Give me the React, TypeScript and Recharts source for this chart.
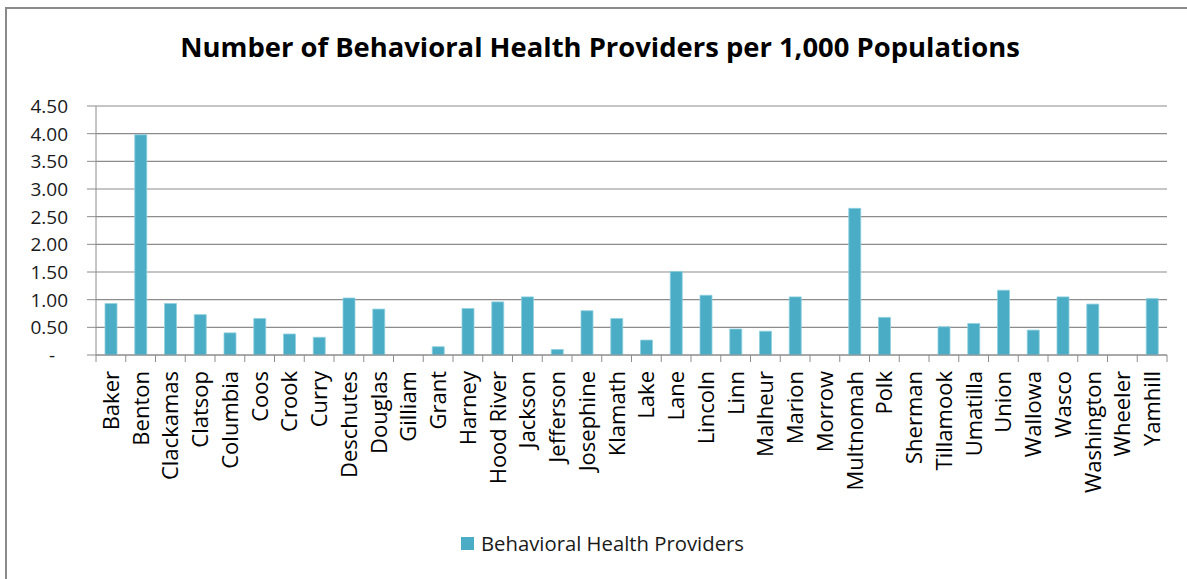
import React from 'react';
import { BarChart, Bar, XAxis, YAxis, CartesianGrid, Legend } from 'recharts';

const COUNTIES = [
  'Baker', 'Benton', 'Clackamas', 'Clatsop', 'Columbia', 'Coos', 'Crook', 'Curry',
  'Deschutes', 'Douglas', 'Gilliam', 'Grant', 'Harney', 'Hood River', 'Jackson',
  'Jefferson', 'Josephine', 'Klamath', 'Lake', 'Lane', 'Lincoln', 'Linn', 'Malheur',
  'Marion', 'Morrow', 'Multnomah', 'Polk', 'Sherman', 'Tillamook', 'Umatilla',
  'Union', 'Wallowa', 'Wasco', 'Washington', 'Wheeler', 'Yamhill',
];

const PROVIDERS = [
  0.93, 3.98, 0.93, 0.73, 0.40, 0.66, 0.38, 0.32,
  1.03, 0.83, 0, 0.15, 0.84, 0.96, 1.05,
  0.10, 0.80, 0.66, 0.27, 1.51, 1.08, 0.47, 0.43,
  1.05, 0, 2.65, 0.68, 0, 0.51, 0.57,
  1.17, 0.45, 1.05, 0.92, 0, 1.02,
];

const Y_TICKS = [0, 0.5, 1, 1.5, 2, 2.5, 3, 3.5, 4, 4.5];

const BAR = '#4bacc6';
const LINE = '#8c8c8c';
const FONT = '"Open Sans", sans-serif';

const chartData = COUNTIES.map((name, i) => ({ name, value: PROVIDERS[i] }));

const YTick = (props: any) => {
  const { x, y, payload } = props;
  const zero = payload.value === 0;
  return (
    <text
      x={zero ? x - 13 : x}
      y={y}
      dy="0.36em"
      textAnchor="end"
      fontSize={19}
      fontFamily={FONT}
      fill="#1a1a1a"
    >
      {zero ? '-' : payload.value.toFixed(2)}
    </text>
  );
};

// excel style: tick marks sit between categories, labels rotated under the bars
const XTick = (props: any) => {
  const { x, y, payload, index } = props;
  const half = payload.offset || 15.3;
  const ly = y + 16;
  const last = index === COUNTIES.length - 1;
  return (
    <g>
      <line x1={x - half} x2={x - half} y1={y} y2={y + 7} stroke={LINE} />
      {last && <line x1={x + half} x2={x + half} y1={y} y2={y + 7} stroke={LINE} />}
      <text
        x={x}
        y={ly}
        dy="0.36em"
        textAnchor="end"
        transform={`rotate(-90, ${x}, ${ly})`}
        fontSize={22}
        fontFamily={FONT}
        fill="#000"
      >
        {payload.value}
      </text>
    </g>
  );
};

const LegendBox = () => (
  <div style={{ display: 'flex', justifyContent: 'center', alignItems: 'center', paddingLeft: 18, fontFamily: FONT, fontSize: 20.3, color: '#1a1a1a' }}>
    <span style={{ width: 13, height: 13, background: BAR, marginRight: 7, marginTop: 1 }} />
    <span>Behavioral Health Providers</span>
  </div>
);

export default function App() {
  return (
    <div style={{ position: 'absolute', left: 0, top: 0, width: 1187, height: 579, background: '#fff', overflow: 'hidden' }}>
      <div style={{ position: 'absolute', left: 5, top: 7, width: 1200, height: 600, borderLeft: '2px solid #8a8a8a', borderTop: '2px solid #8a8a8a' }} />
      <div
        style={{
          position: 'absolute', left: 0, width: 1200, top: 28, textAlign: 'center',
          fontFamily: FONT, fontWeight: 700, fontSize: 27.4, color: '#000',
        }}
      >
        Number of Behavioral Health Providers per 1,000 Populations
      </div>
      <BarChart
        width={1187}
        height={579}
        data={chartData}
        margin={{ top: 106, right: 20, left: 0, bottom: 0 }}
        barSize={12}
        style={{ position: 'absolute', left: 0, top: 0 }}
      >
        <CartesianGrid vertical={false} stroke={LINE} strokeWidth={1.2} />
        <XAxis
          dataKey="name"
          interval={0}
          height={194}
          tickLine={false}
          tickSize={0}
          tickMargin={0}
          axisLine={{ stroke: LINE }}
          tick={<XTick />}
        />
        <YAxis
          width={96}
          domain={[0, 4.5]}
          ticks={Y_TICKS}
          interval={0}
          tickSize={9}
          tickMargin={19}
          axisLine={{ stroke: LINE }}
          tickLine={{ stroke: LINE }}
          tick={<YTick />}
        />
        <Bar
          dataKey="value"
          fill={BAR}
          stroke="#8fd0e0"
          strokeWidth={0.8}
          isAnimationActive={false}
        />
        <Legend
          content={<LegendBox />}
          wrapperStyle={{ top: 529, bottom: 'auto', left: 0, width: 1187, height: 30 }}
        />
      </BarChart>
    </div>
  );
}
